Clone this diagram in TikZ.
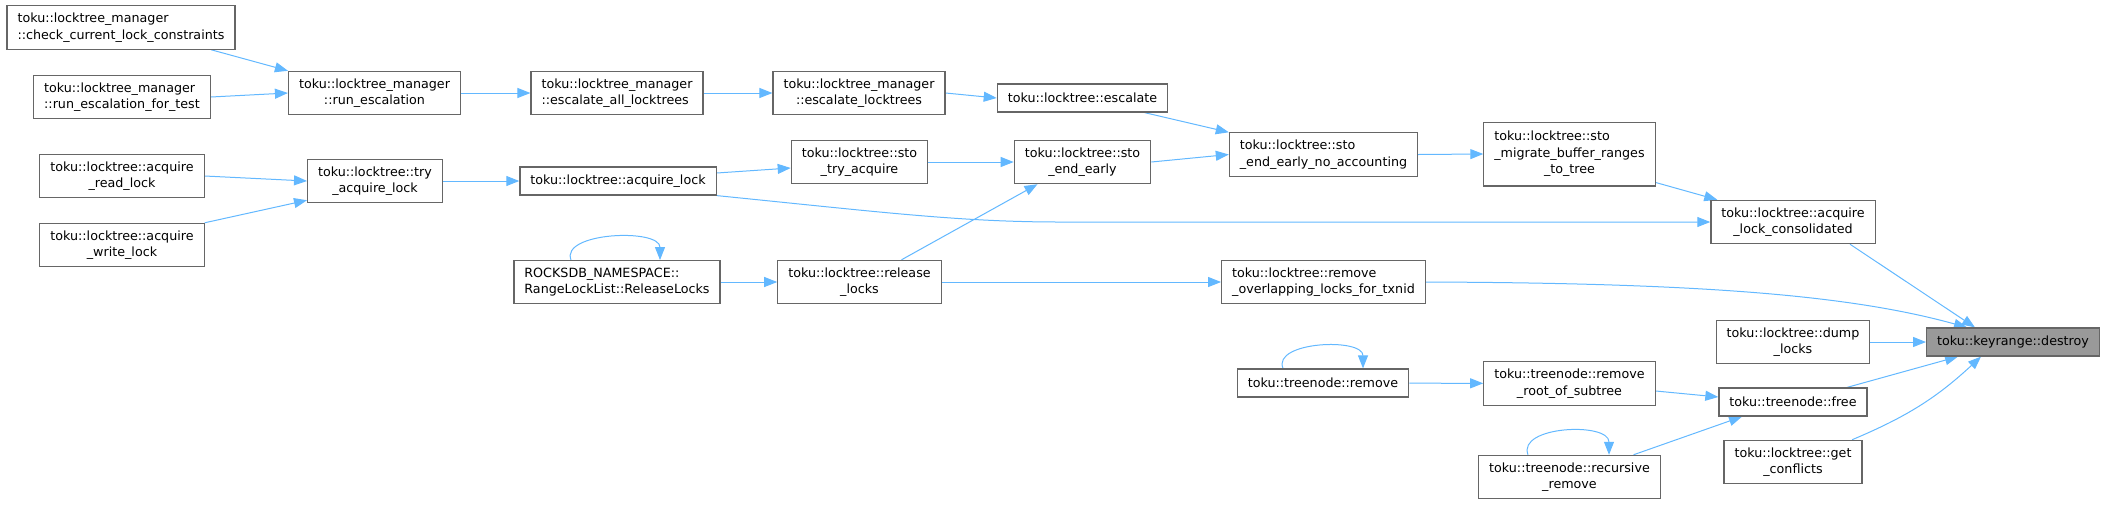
\documentclass[tikz,border=0pt]{standalone}
\usepackage{fontspec}
\setmainfont{DejaVu Sans}
\usepackage{tikz}
\usetikzlibrary{arrows.meta}
\pgfdeclarelayer{edgelayer}
\pgfdeclarelayer{nodelayer}
\pgfsetlayers{edgelayer,nodelayer,main}
\definecolor{callblue}{HTML}{63B8FF}
\definecolor{boxgrey}{HTML}{666666}
\definecolor{rootgrey}{HTML}{999999}
\tikzstyle{fn}=[rectangle, fill=white, draw=boxgrey, line width=0.6pt, inner xsep=5.25pt, inner ysep=3.5pt, minimum height=14pt, align=center, font=\fontsize{6.35}{8.3}\selectfont]
\tikzstyle{fnl}=[fn, align=left]
\tikzstyle{rootfn}=[fn, fill=rootgrey]
\tikzstyle{call}=[draw=callblue, line width=0.5pt, -{Triangle[length=6.5pt,width=5pt]}]

\begin{document}
\begin{tikzpicture}[x=0.5pt, y=-0.5pt]
	\useasboundingbox (0,0) rectangle (2106,505);
	\begin{pgfonlayer}{nodelayer}
		\node [style=fnl] (1) at (121, 27.5) {toku::locktree\_manager\\::check\_current\_lock\_constraints};
		\node [style=fnl] (2) at (122, 97) {toku::locktree\_manager\\::run\_escalation\_for\_test};
		\node [style=fn] (3) at (374.5, 93) {toku::locktree\_manager\\::run\_escalation};
		\node [style=fnl] (4) at (617, 93) {toku::locktree\_manager\\::escalate\_all\_locktrees};
		\node [style=fn] (5) at (859, 93) {toku::locktree\_manager\\::escalate\_locktrees};
		\node [style=fn] (6) at (1082.5, 98) {toku::locktree::escalate};
		\node [style=fn] (7) at (122, 176) {toku::locktree::acquire\\\_read\_lock};
		\node [style=fn] (8) at (122, 245) {toku::locktree::acquire\\\_write\_lock};
		\node [style=fn] (9) at (375, 181) {toku::locktree::try\\\_acquire\_lock};
		\node [style=fn] (10) at (618, 181) {toku::locktree::acquire\_lock};
		\node [style=fnl] (11) at (617, 282) {ROCKSDB\_NAMESPACE::\\RangeLockList::ReleaseLocks};
		\node [style=fn] (12) at (859.5, 162) {toku::locktree::sto\\\_try\_acquire};
		\node [style=fn] (13) at (1082.5, 162) {toku::locktree::sto\\\_end\_early};
		\node [style=fnl] (14) at (1323.5, 154.5) {toku::locktree::sto\\\_end\_early\_no\_accounting};
		\node [style=fn] (15) at (859.5, 282) {toku::locktree::release\\\_locks};
		\node [style=fnl] (16) at (1323.5, 282) {toku::locktree::remove\\\_overlapping\_locks\_for\_txnid};
		\node [style=fn] (17) at (1323, 383) {toku::treenode::remove};
		\node [style=fn] (18) at (1569.5, 154) {\begin{tabular}{@{}l@{}}toku::locktree::sto\\\_migrate\_buffer\_ranges\\\multicolumn{1}{@{}c@{}}{\_to\_tree}\end{tabular}};
		\node [style=fn] (19) at (1793, 222) {toku::locktree::acquire\\\_lock\_consolidated};
		\node [style=fn] (20) at (1793, 342) {toku::locktree::dump\\\_locks};
		\node [style=fn] (21) at (1569.5, 383.5) {toku::treenode::remove\\\_root\_of\_subtree};
		\node [style=fn] (22) at (1793, 402) {toku::treenode::free};
		\node [style=fn] (23) at (1569.5, 477) {toku::treenode::recursive\\\_remove};
		\node [style=fn] (24) at (1793, 462) {toku::locktree::get\\\_conflicts};
		\node [style=rootfn] (25) at (2013, 342) {toku::keyrange::destroy};
	\end{pgfonlayer}
	\begin{pgfonlayer}{edgelayer}
		\draw [style=call] ([xshift=45pt]1.south) to (3.north west);
		\draw [style=call] (2.east) to (3.west);
		\draw [style=call] (3) to (4);
		\draw [style=call] (4) to (5);
		\draw [style=call] (5.east) to (6.west);
		\draw [style=call] ([xshift=31pt]6.south) to (14.north west);
		\draw [style=call] (7.east) to (9.west);
		\draw [style=call] (8.north east) to ([yshift=1.5pt]9.south west);
		\draw [style=call] (9) to (10);
		\draw [style=call] ([yshift=4pt]10.east) to ([yshift=-3pt]12.west);
		\draw [style=call] (12) to (13);
		\draw [style=call] (13.east) to (14.west);
		\draw [style=call] (14.east) to (18.west);
		\draw [style=call] ([yshift=2pt]18.south east) to ([xshift=3.5pt]19.north west);
		\draw [style=call] (10.south east) .. controls (880,212) and (960,222) .. (1060,222) to (19.west);
		\draw [style=call] (11) to (15);
		\draw [style=call] ([xshift=-23pt]11.north) .. controls +(-11,-28) and +(0,-32) .. ([xshift=21.5pt]11.north);
		\draw [style=call] ([xshift=21pt]15.north) to ([xshift=-22.5pt]13.south);
		\draw [style=call] (15) to (16);
		\draw [style=call] (16.east) .. controls (1700,283) and (1850,295) .. ([xshift=-23pt]25.north);
		\draw [style=call] ([xshift=28.5pt]19.south) to ([xshift=-19pt]25.north);
		\draw [style=call] (20) to (25);
		\draw [style=call] ([xshift=-20pt]17.north) .. controls +(-11,-27) and +(0,-31) .. ([xshift=20pt]17.north);
		\draw [style=call] (17) to (21);
		\draw [style=call] ([yshift=-3.75pt]21.east) to ([yshift=2.5pt]22.west);
		\draw [style=call] ([xshift=27pt]22.north) to ([xshift=-27.5pt]25.south);
		\draw [style=call] ([xshift=32pt]23.north) to ([xshift=-25.5pt]22.south);
		\draw [style=call] ([xshift=-20.75pt]23.north) .. controls +(-11,-29) and +(0,-33) .. ([xshift=19.75pt]23.north);
		\draw [style=call, bend right=10] ([xshift=29.5pt]24.north) to ([xshift=-16pt]25.south);
	\end{pgfonlayer}
\end{tikzpicture}
\end{document}
